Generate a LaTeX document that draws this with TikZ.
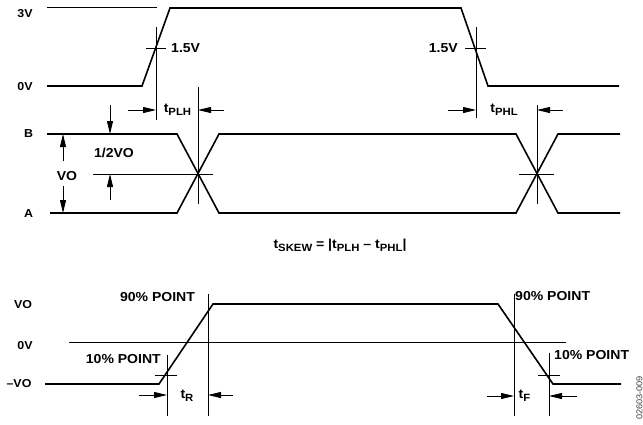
\documentclass[tikz,border=0pt]{standalone}
\usepackage{fontspec}
\setmainfont{Liberation Sans}[FakeStretch=1.08]
\usetikzlibrary{arrows.meta}
\newcommand\sbs[1]{\raisebox{-0.45ex}{\fontsize{10.5}{11}\selectfont #1}}
\begin{document}
\begin{tikzpicture}[x=1pt,y=-1pt,
  font=\fontsize{13}{13}\selectfont\bfseries,
  sig/.style={line width=1.6pt,line join=miter},
  thinl/.style={line width=0.8pt},
  arr/.style={line width=0.8pt,-{Triangle[length=13pt,width=6pt]}},
  lbl/.style={inner sep=0pt},
  axl/.style={inner sep=0pt,font=\fontsize{11.5}{12}\selectfont\bfseries}]
\useasboundingbox (0,0) rectangle (643,424);

% ---------- top: input ----------
\node[axl] (l3v) at (25,14) {3V};
\node[axl] (l0v) at (25,86.5) {0V};
\draw[thinl] (47,7) -- (157,7);
\draw[sig] (47,86) -- (142,86) -- (170,8) -- (461,8) -- (488,86) -- (619,86);
\coordinate (c1) at (156,48);
\coordinate (c2) at (476,48);
\draw[thinl] (156,27) -- (156,120);
\draw[thinl] (146,48) -- (166,48);
\node[lbl,anchor=west] (v15a) at (171,48) {1.5V};
\draw[thinl] (476,27) -- (476,118);
\draw[thinl] (465,48) -- (486,48);
\node[lbl,anchor=east] (v15b) at (458,48) {1.5V};

% delays
\coordinate (p1) at (156,110);
\coordinate (p2) at (198,110);
\coordinate (q1) at (476,110);
\coordinate (q2) at (537,110);
\draw[arr] (128,110) -- (p1);
\draw[arr] (224,110) -- (p2);
\node[lbl] (tplh) at (177.5,110) {t\sbs{PLH}};
\draw[thinl] (198,87) -- (198,204);
\draw[arr] (448,110) -- (q1);
\draw[arr] (563,110) -- (q2);
\node[lbl] (tphl) at (504,110) {t\sbs{PHL}};
\draw[thinl] (537,105) -- (537,204);

% ---------- middle: differential output ----------
\node[axl] (lb) at (28.5,134) {B};
\node[axl] (la) at (28.5,214) {A};
\draw[sig] (47,134) -- (177,134) -- (219,213) -- (516,213) -- (558,134) -- (620,134);
\draw[sig] (50,213) -- (177,213) -- (219,134) -- (516,134) -- (558,213) -- (620,213);
\draw[thinl] (93,174) -- (213,174);
\draw[thinl] (519,174) -- (554,174);
% VO
\coordinate (vb) at (63,134);
\coordinate (va) at (63,213);
\draw[arr] (63,161) -- (vb);
\draw[arr] (63,186) -- (va);
\node[lbl] (vo) at (67,176) {VO};
% 1/2 VO
\coordinate (hb) at (110,134);
\coordinate (hm) at (110,174);
\draw[arr] (110,105) -- (hb);
\draw[arr] (110,200) -- (hm);
\node[lbl] (hvo) at (114,153) {1/2VO};

\node[lbl] (skew) at (340,245) {t\sbs{SKEW} = |t\sbs{PLH} -- t\sbs{PHL}|};

% ---------- bottom: rise / fall ----------
\node[axl] (lvo) at (23,305) {VO};
\node[axl] (l0) at (25,346) {0V};
\node[axl] (lmvo) at (19,384) {--VO};
\draw[thinl] (69,342) -- (566,342);
\draw[sig] (45,384) -- (159,384) -- (213,304) -- (498,304) -- (553,384) -- (621,384);
\draw[thinl] (167,355) -- (167,416);
\draw[thinl] (155,375) -- (177,375);
\draw[thinl] (208,294) -- (208,416);
\draw[thinl] (514,294) -- (514,416);
\draw[thinl] (549,353) -- (549,416);
\draw[thinl] (538,375) -- (560,375);
\node[lbl,anchor=east] (p10a) at (161,359) {10\% POINT};
\node[lbl] (p90a) at (157.5,297) {90\% POINT};
\node[lbl,anchor=west] (p90b) at (515,296) {90\% POINT};
\node[lbl,anchor=west] (p10b) at (554,355) {10\% POINT};
\coordinate (r1) at (167,395);
\coordinate (r2) at (208,395);
\coordinate (f1) at (514,396);
\coordinate (f2) at (549,396);
\draw[arr] (139,395) -- (r1);
\draw[arr] (233,395) -- (r2);
\node[lbl] (tr) at (187,396) {t\sbs{R}};
\draw[arr] (487,396) -- (f1);
\draw[arr] (577,396) -- (f2);
\node[lbl] (tf) at (524.5,396) {t\sbs{F}};

\node[inner sep=0pt,rotate=90,text=black!75,font=\fontsize{8.5}{9}\selectfont] (code) at (639.5,398) {02603-009};
\end{tikzpicture}
\end{document}
